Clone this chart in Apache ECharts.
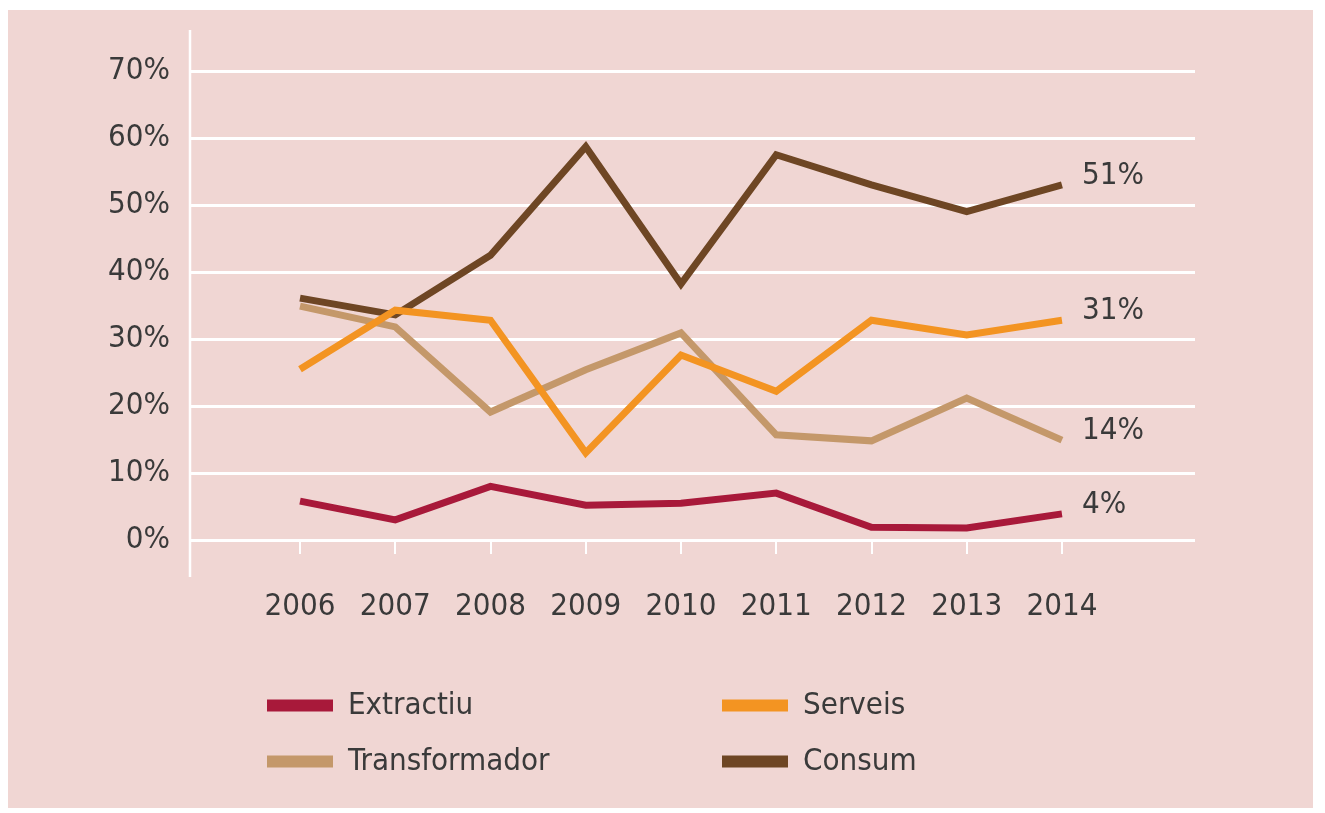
<!DOCTYPE html>
<html>
<head>
<meta charset="utf-8">
<script src="https://cdn.jsdelivr.net/npm/echarts@6/dist/echarts.min.js"></script>
<style>
  html, body { margin: 0; padding: 0; background: #ffffff; }
  #panel { position: absolute; left: 8px; top: 10px; width: 1305px; height: 798px; background: #f0d6d3; }
  #main { position: absolute; left: 0; top: 0; width: 1325px; height: 813px; }
</style>
</head>
<body>
<div id="panel"></div>
<div id="main"></div>
<script>
  // anys
  const years = [2006, 2007, 2008, 2009, 2010, 2011, 2012, 2013, 2014];
  // percentatges per sector
  const extractiu = [5.8, 3.0, 8.0, 5.2, 5.5, 7.0, 1.9, 1.8, 3.9];
  const serveis = [25.5, 34.3, 32.8, 13.0, 27.6, 22.2, 32.8, 30.6, 32.8];
  const transformador = [34.9, 31.8, 19.1, 25.4, 30.9, 15.7, 14.8, 21.2, 14.9];
  const consum = [36.1, 33.6, 42.5, 58.7, 38.2, 57.5, 53.0, 49.0, 53.0];
  // etiquetes finals
  const endTexts = { Extractiu: '4%', Serveis: '31%', Transformador: '14%', Consum: '51%' };

  const font = '"Liberation Sans Narrow", "DejaVu Sans Condensed", "Roboto", sans-serif';
  const textColor = '#3a3a3a';

  function pairs(vals) {
    return vals.map(function (v, i) { return [years[i], v]; });
  }

  function lineSeries(name, vals, color) {
    return {
      name: name,
      type: 'line',
      data: pairs(vals),
      symbol: 'none',
      lineStyle: { color: color, width: 7, join: 'miter' },
      itemStyle: { color: color },
      endLabel: {
        show: true,
        formatter: endTexts[name],
        color: textColor,
        fontFamily: font,
        fontSize: 31,
        offset: [12, -9]
      },
      animation: false
    };
  }

  function legendAt(name, left, top) {
    return {
      data: [name],
      left: left,
      top: top,
      padding: 0,
      icon: 'rect',
      itemWidth: 66,
      itemHeight: 12,
      itemGap: 15,
      selectedMode: false,
      textStyle: { color: textColor, fontFamily: font, fontSize: 31, padding: [0, 0, 0, 10] }
    };
  }

  let myChart = echarts.init(document.getElementById('main'));
  let option = {
    backgroundColor: 'transparent',
    animation: false,
    grid: { left: 190, right: 130, top: 71, bottom: 273 },
    xAxis: {
      type: 'value',
      min: 2004.845,
      max: 2015.397,
      splitLine: { show: false },
      axisLine: { show: false },
      axisTick: {
        show: true,
        customValues: years,
        length: 14,
        lineStyle: { color: '#ffffff', width: 2 }
      },
      axisLabel: {
        customValues: years,
        formatter: function (v) { return String(v); },
        margin: 51,
        color: textColor,
        fontFamily: font,
        fontSize: 31
      }
    },
    yAxis: {
      type: 'value',
      min: 0,
      max: 70,
      interval: 10,
      axisLine: { show: false },
      axisTick: { show: false },
      splitLine: { lineStyle: { color: '#ffffff', width: 3 } },
      axisLabel: {
        formatter: '{value}%',
        margin: 20,
        color: textColor,
        fontFamily: font,
        fontSize: 31
      }
    },
    legend: [
      legendAt('Extractiu', 267, 690),
      legendAt('Serveis', 722, 690),
      legendAt('Transformador', 267, 746),
      legendAt('Consum', 722, 746)
    ],
    graphic: [
      {
        type: 'line',
        shape: { x1: 190, y1: 30, x2: 190, y2: 577 },
        style: { stroke: '#ffffff', lineWidth: 2.5 },
        silent: true
      }
    ],
    series: [
      lineSeries('Consum', consum, '#6e4624'),
      lineSeries('Transformador', transformador, '#c4986a'),
      lineSeries('Serveis', serveis, '#f39422'),
      lineSeries('Extractiu', extractiu, '#a8193a')
    ]
  };
  option && myChart.setOption(option);
</script>
</body>
</html>
